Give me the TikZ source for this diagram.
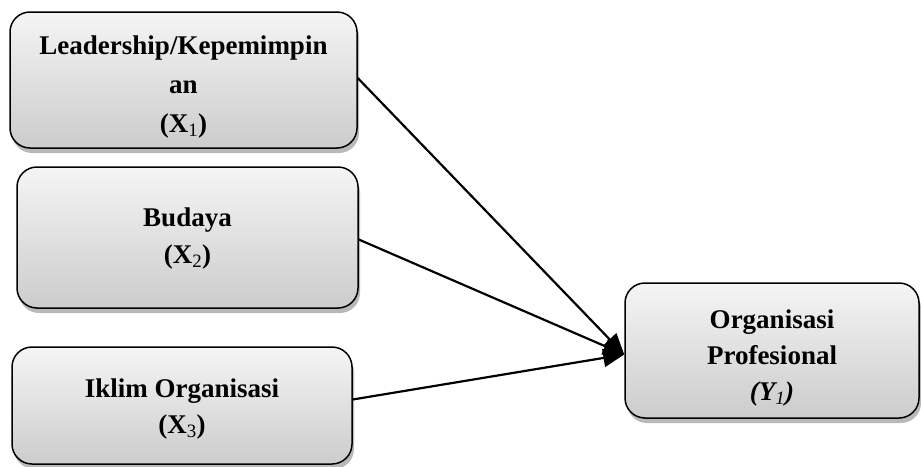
\documentclass[tikz,border=0pt]{standalone}
\usepackage{fontspec}
\setmainfont{Liberation Serif}
\usetikzlibrary{shadows,arrows.meta}
\newcommand{\boxtext}[3]{\raisebox{#1}[\height][\depth]{\def\arraystretch{#2}\begin{tabular}{@{}c@{}}#3\end{tabular}}}
\begin{document}
\begin{tikzpicture}[x=1pt,y=-1pt,
  varbox/.style={draw=black, line width=1.5pt, rounded corners=20pt,
    top color=gray!8, bottom color=gray!40,
    drop shadow={shadow xshift=2pt, shadow yshift=-5pt, opacity=0.55, fill=gray},
    align=center, font=\fontsize{27}{36}\selectfont\bfseries,
    inner sep=0pt, anchor=center},
  link/.style={line width=2.2pt, -{Triangle[length=21pt,width=18pt]}}]
\useasboundingbox (0,0) rectangle (921,466);
\node[varbox, minimum width=347pt, minimum height=136pt] (x1) at (183.5,80)
  {\boxtext{-6pt}{1.08}{Leadership/Kepemimpin\\an\\(X\textsubscript{\mdseries 1})}};
\node[varbox, minimum width=341pt, minimum height=141pt] (x2) at (187.5,237.5)
  {\boxtext{0pt}{1.05}{Budaya\\(X\textsubscript{\mdseries 2})}};
\node[varbox, minimum width=340pt, minimum height=117pt] (x3) at (182,405.5)
  {\boxtext{-3pt}{0.98}{Iklim Organisasi\\(X\textsubscript{\mdseries 3})}};
\node[varbox, minimum width=294pt, minimum height=135pt] (y1) at (772,350.5)
  {\boxtext{-7pt}{1.0}{Organisasi\\Profesional\\\textit{(Y\textsubscript{\mdseries 1})}}};
\coordinate (tip) at ([yshift=-4pt]y1.west);
\draw[link] ([yshift=2pt]x1.east) -- (tip);
\draw[link] ([yshift=-2pt]x2.east) -- (tip);
\draw[link] ([yshift=6pt]x3.east) -- (tip);
\end{tikzpicture}
\end{document}
